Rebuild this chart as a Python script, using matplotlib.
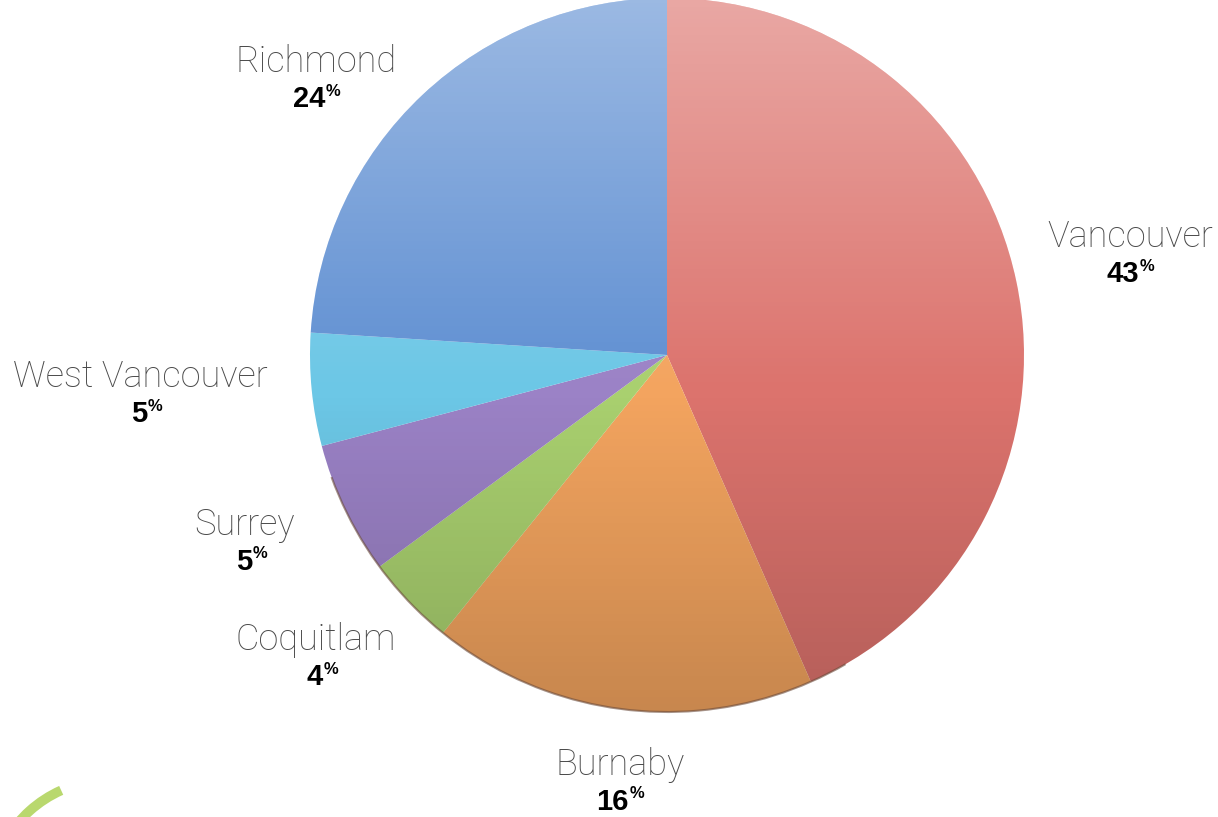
import matplotlib.pyplot as plt
import numpy as np
from matplotlib.patches import Circle, Arc

# slice sizes (degrees of arc -> share), and the printed labels
cities = ["Vancouver", "Burnaby", "Coquitlam", "Surrey", "West Vancouver", "Richmond"]
shares = [43.4, 17.4, 4.1, 6.0, 5.1, 24.0]
printed_pct = ["43", "16", "4", "5", "5", "24"]
colors = ["#dc736d", "#f3a45f", "#a9d06f", "#9b82c6", "#6cc7e6", "#5f8fd2"]

W, H = 1218, 817
fig = plt.figure(figsize=(W / 100, H / 100), dpi=100)
ax = fig.add_axes([0, 0, 1, 1])

cx, cy, r = 667, H - 355, 357

wedges, _ = ax.pie(shares, colors=colors, startangle=90, counterclock=False,
                   center=(cx, cy), radius=r, frame=True,
                   wedgeprops=dict(linewidth=0))
ax.set_xlim(0, W)
ax.set_ylim(0, H)
ax.set_aspect("equal")
ax.axis("off")

# soft vertical shading: lighter top, a bit darker at the bottom
n = 256
t = np.linspace(0, 1, n)  # 0 = top
light = np.clip(0.38 * (1 - t / 0.55), 0, None)
dark = np.clip(0.18 * (t - 0.55) / 0.45, 0, None)
shade = np.zeros((n, 1, 4))
shade[:, 0, :3] = np.where(light > 0, 1.0, 0.0)[:, None]
shade[:, 0, 3] = light + dark
img = ax.imshow(shade, extent=(cx - r, cx + r, cy - r, cy + r), aspect="auto",
                zorder=3, interpolation="bilinear")
img.set_clip_path(Circle((cx, cy), r, transform=ax.transData))

# thin darker rim along the lower edge
ax.add_patch(Arc((cx, cy), 2 * r, 2 * r, theta1=200, theta2=300,
                 color="#6a4a3a", lw=1.5, alpha=0.6, zorder=4))

# labels: (name centre x, name centre y) in pixel coordinates of the picture
label_pos = [(1130, 237), (620, 765), (316, 640), (245, 525), (140, 377), (316, 62)]
name_font = dict(family=["Roboto", "DejaVu Sans"], fontweight="light", fontsize=26, color="#4a4a4a")
pct_font = dict(family=["Liberation Sans", "DejaVu Sans"], fontweight="bold", color="black")

for city, pct, (lx, ly) in zip(cities, printed_pct, label_pos):
    y = H - ly
    ax.text(lx, y, city, ha="center", va="center", **name_font)
    off = 9 if len(pct) == 2 else 7
    ax.text(lx + off, y - 37, pct, ha="right", va="center", fontsize=21, **pct_font)
    ax.text(lx + off + 1, y - 29, "%", ha="left", va="center", fontsize=12, **pct_font)

# decorative green arc at the bottom left
ax.add_patch(Arc((110, H - 900), 240, 240, theta1=114, theta2=150,
                 color="#b9d86e", lw=7, zorder=1))

fig.savefig("out.png", dpi=100)
